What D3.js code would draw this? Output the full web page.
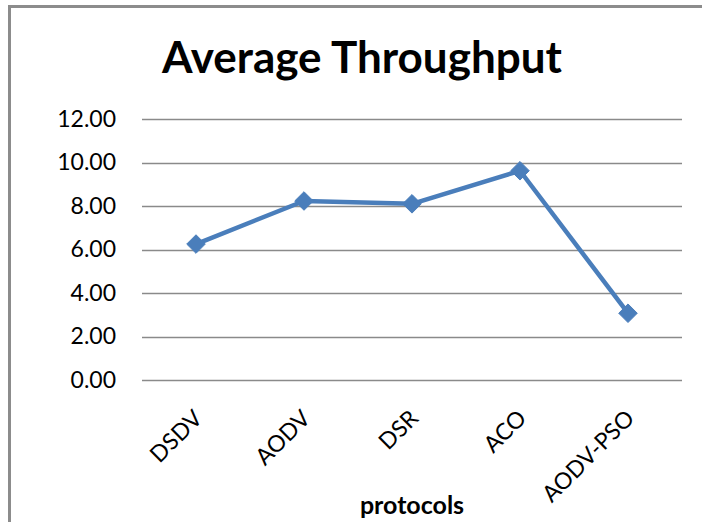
<!DOCTYPE html>
<html><head><meta charset="utf-8">
<script src="https://cdn.jsdelivr.net/npm/d3@7"></script>
<style>body{margin:0;background:#fff}svg{display:block}</style>
</head><body>
<svg id="chart" width="702" height="522"></svg>
<script>
const categories = ["DSDV", "AODV", "DSR", "ACO", "AODV-PSO"];
const throughput = [6.25, 8.23, 8.1, 9.62, 3.07];
const yTicks = [0, 2, 4, 6, 8, 10, 12];
const title = "Average Throughput";
const xTitle = "protocols";

const svg = d3.select("#chart");
const font = "Lato, 'Open Sans', sans-serif";

// outer border
svg.append("rect").attr("x", 9.5).attr("y", 6.5).attr("width", 710).attr("height", 530)
  .attr("fill", "#fff").attr("stroke", "#8c8c8c").attr("stroke-width", 3);

const plot = {left: 142, right: 682, top: 119, bottom: 380};
const x = d3.scaleBand().domain(categories).range([plot.left, plot.right]);
const y = d3.scaleLinear().domain([0, 12]).range([plot.bottom, plot.top]);

// gridlines
svg.append("g").selectAll("line").data(yTicks).join("line")
  .attr("x1", plot.left).attr("x2", plot.right)
  .attr("y1", d => Math.round(y(d)) + 0.5).attr("y2", d => Math.round(y(d)) + 0.5)
  .attr("stroke", "#8a8a8a").attr("stroke-width", 1.5);

// y axis labels
const yAxis = d3.axisLeft(y).tickValues(yTicks).tickFormat(d3.format(".2f")).tickSize(0).tickPadding(26);
const gy = svg.append("g").attr("transform", `translate(${plot.left},0)`).call(yAxis);
gy.select(".domain").remove();
gy.selectAll("text").attr("font-family", font).attr("font-size", 23).attr("fill", "#000");

// x axis labels
const xAxis = d3.axisBottom(x).tickSize(0).tickPadding(0);
const gx = svg.append("g").attr("transform", `translate(0,${plot.bottom})`).call(xAxis);
gx.select(".domain").remove();
gx.selectAll("text")
  .attr("font-family", font).attr("font-size", 23).attr("fill", "#000")
  .attr("text-anchor", "end")
  .attr("dy", "0.35em")
  .attr("transform", "translate(2,34) rotate(-45)");

// line
const line = d3.line().x((d, i) => x(categories[i]) + x.bandwidth() / 2).y(d => y(d));
svg.append("path").datum(throughput).attr("d", line)
  .attr("fill", "none").attr("stroke", "#4a7ebb").attr("stroke-width", 4.5)
  .attr("stroke-linejoin", "round");

// markers
svg.append("g").selectAll("path").data(throughput).join("path")
  .attr("d", d3.symbol().type(d3.symbolDiamond2).size(220))
  .attr("transform", (d, i) => `translate(${x(categories[i]) + x.bandwidth() / 2},${y(d)})`)
  .attr("fill", "#4a7ebb").attr("stroke", "#4a7ebb").attr("stroke-width", 1);

// title
svg.append("text").attr("x", 362).attr("y", 73).attr("text-anchor", "middle")
  .attr("font-family", font).attr("font-weight", "bold").attr("font-size", 44)
  .attr("fill", "#000").text(title);

// x axis title
svg.append("text").attr("x", 412).attr("y", 514).attr("text-anchor", "middle")
  .attr("font-family", font).attr("font-weight", "bold").attr("font-size", 25)
  .attr("fill", "#000").text(xTitle);
</script>
</body></html>
